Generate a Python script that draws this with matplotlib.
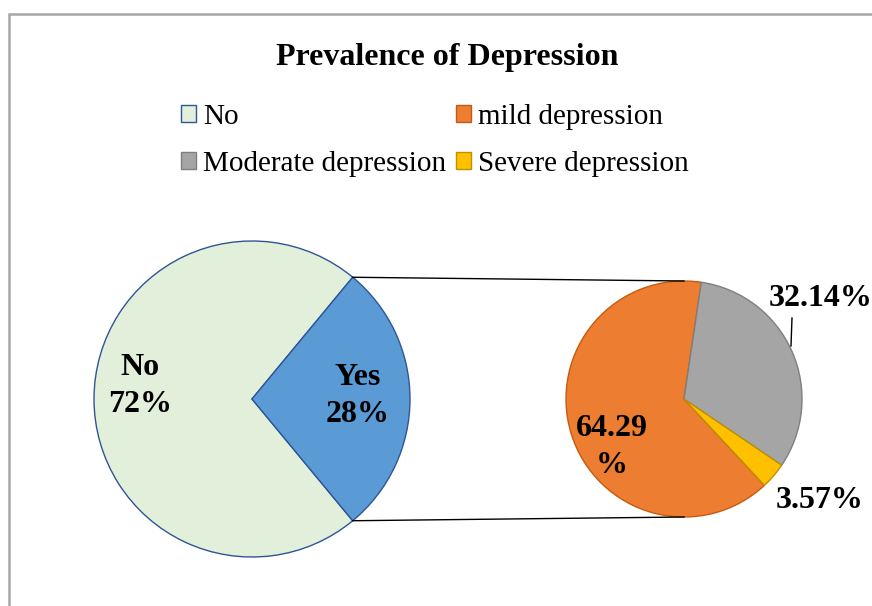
import numpy as np
import matplotlib.pyplot as plt
from matplotlib.patches import Rectangle, Patch

plt.rcParams['font.family'] = ['Liberation Serif', 'DejaVu Serif']

# ======================== DATA ========================
main_labels = ['No', 'Yes']
main_values = [72, 28]
main_colors = ['#E2EFDA', '#5B9BD5']

sub_labels = ['mild depression', 'Moderate depression', 'Severe depression']
sub_values = [64.29, 32.14, 3.57]
sub_colors = ['#ED7D31', '#A5A5A5', '#FFC000']
sub_edges = ['#C55A11', '#7F7F7F', '#BF9000']

# ======================== LAYOUT ========================
W, H = 872, 606
fig = plt.figure(figsize=(W / 100, H / 100), dpi=100)
ax = fig.add_axes([0, 0, 1, 1])

# chart area border (cut off at right / bottom like the original)
fig.patches.append(Rectangle((9 / W, -0.1), 1.2, 1.1 - 14 / H, transform=fig.transFigure,
                             fill=False, ec='#A6A6A6', lw=1.8))

c1, r1 = (252, H - 399), 158
c2, r2 = (684, H - 399), 118

# main pie, "Yes" slice centred on the right
yes_half = main_values[1] / sum(main_values) * 180
w1, _ = ax.pie(main_values, colors=main_colors, center=c1, radius=r1,
               startangle=yes_half, counterclock=True,
               wedgeprops=dict(edgecolor='#2F5597', linewidth=1.0), frame=True)

# secondary pie
w2, _ = ax.pie(sub_values, colors=sub_colors, center=c2, radius=r2,
               startangle=-47, counterclock=False,
               wedgeprops=dict(linewidth=1.0), frame=True)
for w, ec in zip(w2, sub_edges):
    w.set_edgecolor(ec)

ax.set_xlim(0, W)
ax.set_ylim(0, H)
ax.set_aspect('equal')
ax.axis('off')

# connector lines from the "Yes" slice edges to the secondary pie
for sgn in (1, -1):
    a = np.deg2rad(sgn * yes_half)
    x0 = c1[0] + r1 * np.cos(a)
    y0 = c1[1] + r1 * np.sin(a)
    ax.plot([x0, c2[0]], [y0, c2[1] + sgn * r2], color='black', lw=1.0)

bold = dict(fontsize=23, fontweight='bold', ha='center', va='center', linespacing=1.35)

# main pie labels
ax.text(c1[0] - 112, c1[1] + 13, f"{main_labels[0]}\n{main_values[0]}%", **bold)
ax.text(c1[0] + 106, c1[1] + 3, f"{main_labels[1]}\n{main_values[1]}%", **bold)

# secondary pie labels
ax.text(c2[0] - 72, c2[1] - 48, f"{sub_values[0]:.2f}\n%", **bold)
ax.text(c2[0] + 137, c2[1] + 101, f"{sub_values[1]:.2f}%", **bold)
ax.plot([c2[0] + 108, c2[0] + 107], [c2[1] + 81, c2[1] + 53], color='black', lw=1.0)
ax.text(c2[0] + 136, c2[1] - 101, f"{sub_values[2]:.2f}%", **bold)

fig.text(447 / W, 1 - 57 / H, 'Prevalence of Depression', fontsize=23,
         fontweight='bold', ha='center', va='center')

handles = [Patch(facecolor=main_colors[0], edgecolor='#2F5597'),
           Patch(facecolor=sub_colors[1], edgecolor=sub_edges[1]),
           Patch(facecolor=sub_colors[0], edgecolor=sub_edges[0]),
           Patch(facecolor=sub_colors[2], edgecolor=sub_edges[2])]
labels = [main_labels[0], sub_labels[1], sub_labels[0], sub_labels[2]]
fig.legend(handles, labels, ncol=2, loc='upper left',
           bbox_to_anchor=(181 / W, 1 - 104 / H), frameon=False, fontsize=21,
           handlelength=0.5, handleheight=0.5, handletextpad=0.25,
           columnspacing=0.35, labelspacing=0.72, borderpad=0, borderaxespad=0)

fig.savefig('out.png', dpi=100)
